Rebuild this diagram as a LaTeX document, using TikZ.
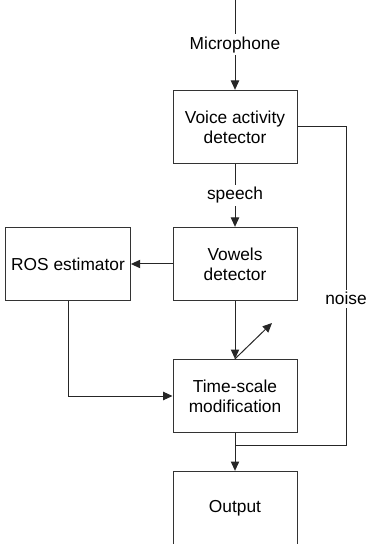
\documentclass[tikz,border=0pt]{standalone}
\usepackage{fontspec}
\setmainfont{Liberation Sans}
\usetikzlibrary{arrows.meta}
\begin{document}
\begin{tikzpicture}[x=0.6pt,y=-0.6pt,font=\fontsize{10.4}{12}\selectfont]
	\tikzstyle{block} = [rectangle,draw=black!80,line width=0.6pt,minimum width=74.4pt,minimum height=44pt,align=center]
	\tikzstyle{wire} = [draw=black!85,line width=0.6pt]
	\tikzstyle{arr} = [wire,-{Triangle[length=5.6pt,width=5pt]}]
	\tikzstyle{lbl} = [fill=white,inner sep=1.5pt]
	\useasboundingbox (0,0) rectangle (366,544);
	% blocks
	\node[block] (vad) at (235,127) {Voice activity\\detector};
	\node[block] (vowels) at (235,264) {Vowels\\detector};
	\node[block] (ros) at (68,264) {ROS estimator};
	\node[block] (tsm) at (235,396) {Time-scale\\modification};
	\node[block] (output) at (235,508) {Output};
	% free ends
	\coordinate (mic) at (235,0);
	\coordinate (knob) at (272,323);
	\coordinate (ncorner) at (346,127);
	\coordinate (join) at (235,445);
	% connections
	\draw[arr] (mic) -- node[lbl] {Microphone} (vad.north);
	\draw[arr] (vad.south) -- node[lbl] {speech} (vowels.north);
	\draw[arr] (vowels.west) -- (ros.east);
	\draw[arr] (vowels.south) -- (tsm.north);
	\draw[arr] (tsm.north) -- (knob);
	\draw[arr] (ros.south) |- (tsm.west);
	\draw[arr] (tsm.south) -- (output.north);
	% noise path
	\draw[wire] (vad.east) -- (ncorner) |- node[lbl,pos=0.27] {noise} (join);
\end{tikzpicture}
\end{document}
